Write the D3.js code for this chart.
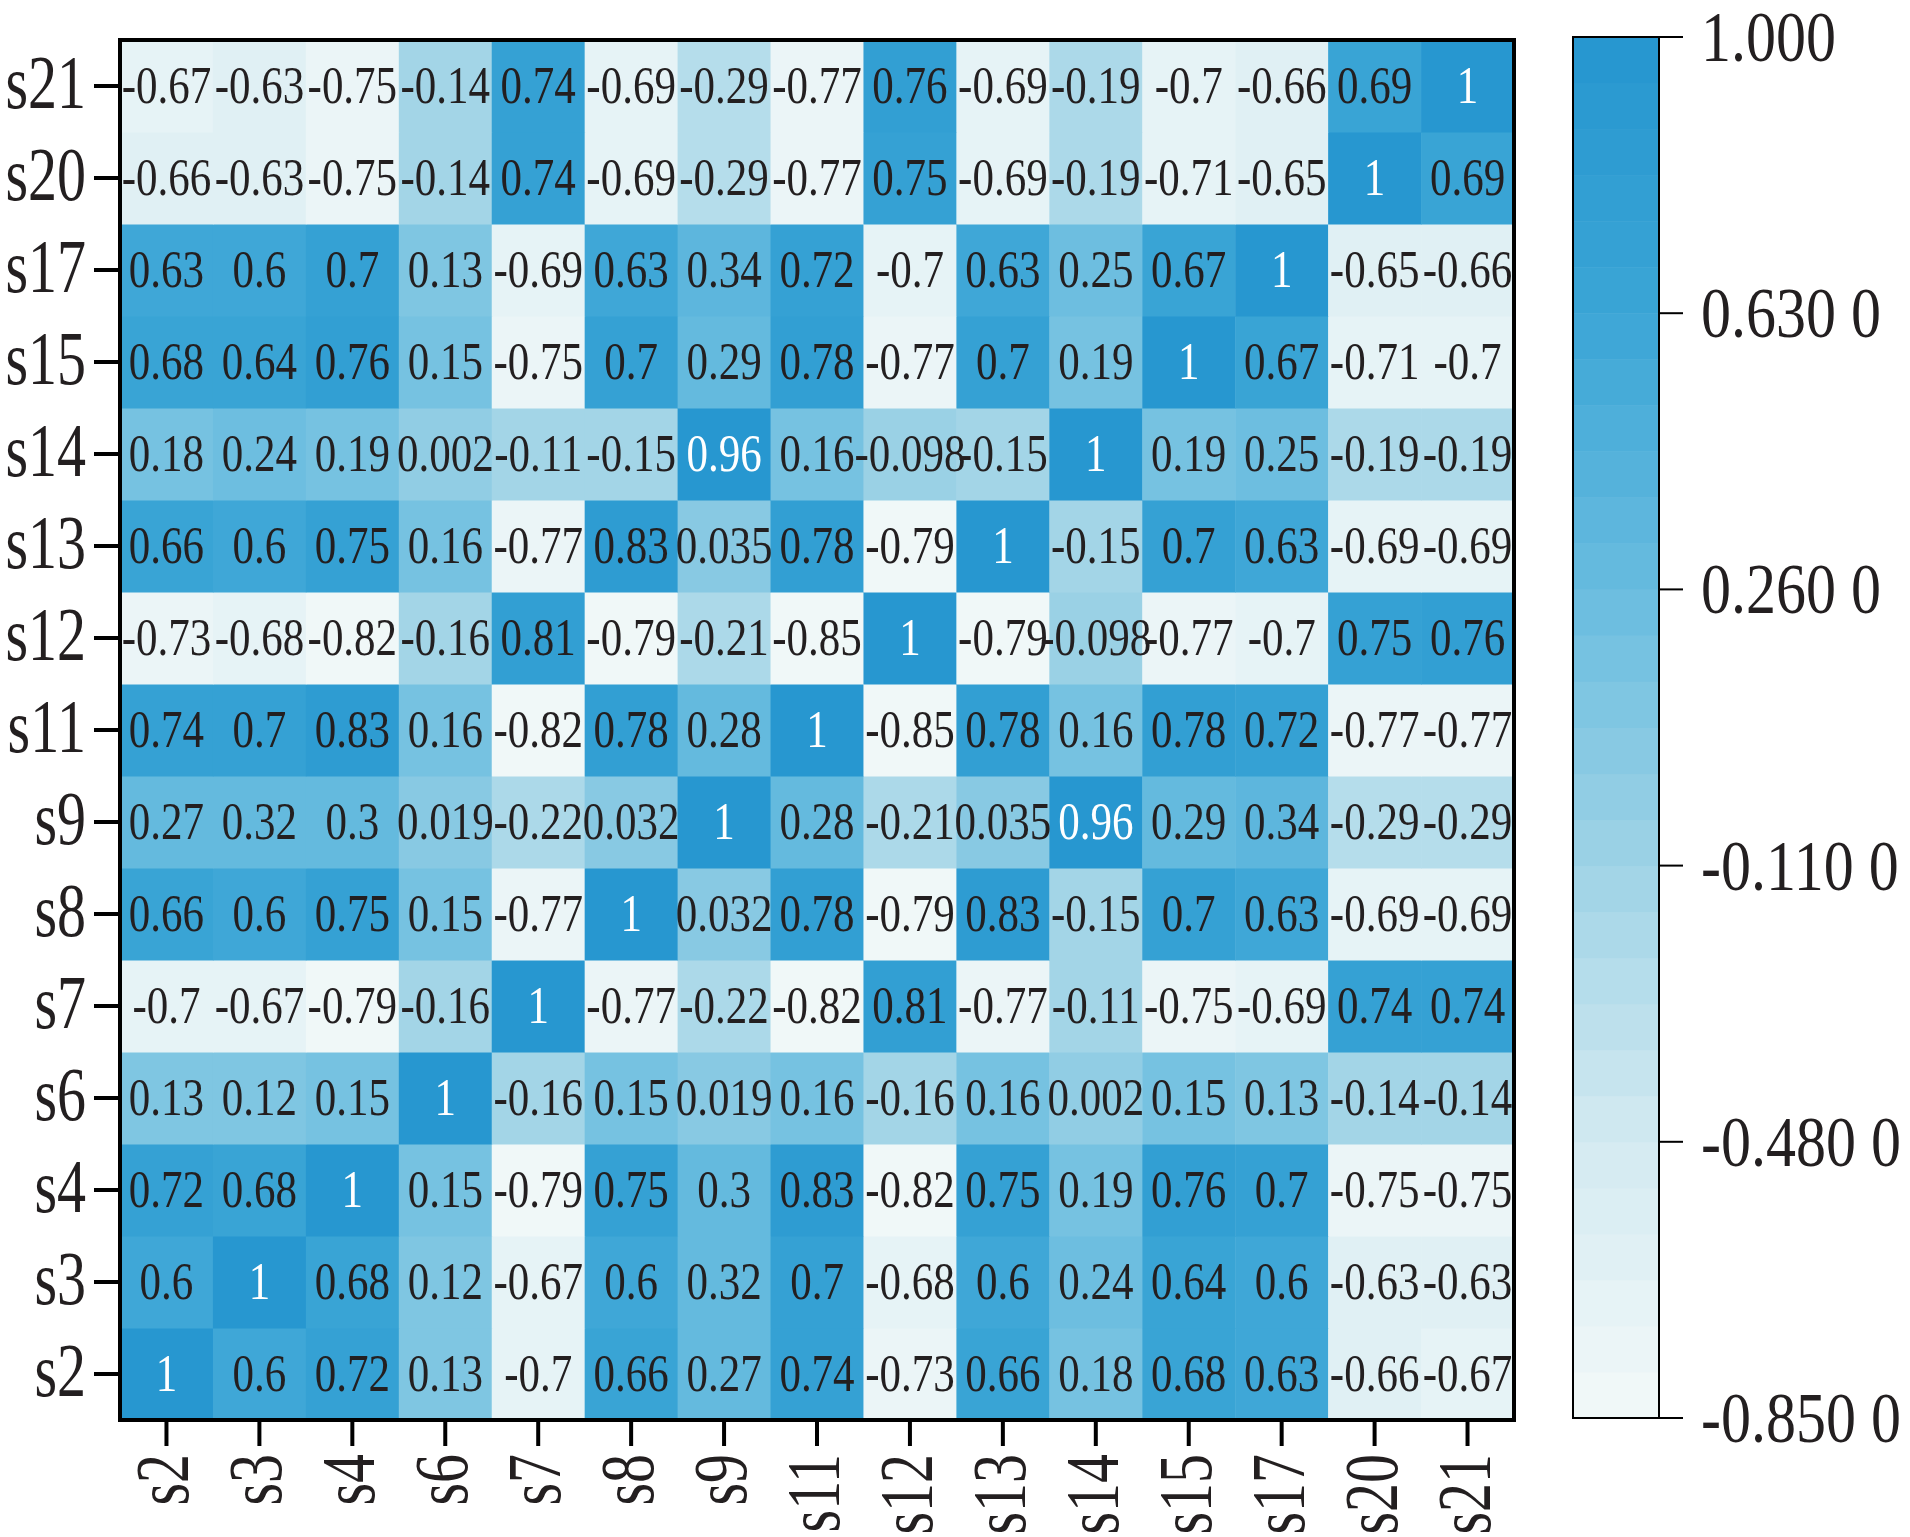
<!DOCTYPE html>
<html><head><meta charset="utf-8">
<script src="https://cdn.jsdelivr.net/npm/d3@7"></script>
<style>body{margin:0;background:#fff}text{font-family:"Liberation Serif","Times New Roman",serif;fill:#231f20}</style>
</head><body><svg id="vis" width="1910" height="1537"></svg>
<script>
// variable order (rows bottom to top, columns left to right)
var names = ['s2','s3','s4','s6','s7','s8','s9','s11','s12','s13','s14','s15','s17','s20','s21'];
var s2  = [1,0.6,0.72,0.13,-0.7,0.66,0.27,0.74,-0.73,0.66,0.18,0.68,0.63,-0.66,-0.67];
var s3  = [0.6,1,0.68,0.12,-0.67,0.6,0.32,0.7,-0.68,0.6,0.24,0.64,0.6,-0.63,-0.63];
var s4  = [0.72,0.68,1,0.15,-0.79,0.75,0.3,0.83,-0.82,0.75,0.19,0.76,0.7,-0.75,-0.75];
var s6  = [0.13,0.12,0.15,1,-0.16,0.15,0.019,0.16,-0.16,0.16,0.002,0.15,0.13,-0.14,-0.14];
var s7  = [-0.7,-0.67,-0.79,-0.16,1,-0.77,-0.22,-0.82,0.81,-0.77,-0.11,-0.75,-0.69,0.74,0.74];
var s8  = [0.66,0.6,0.75,0.15,-0.77,1,0.032,0.78,-0.79,0.83,-0.15,0.7,0.63,-0.69,-0.69];
var s9  = [0.27,0.32,0.3,0.019,-0.22,0.032,1,0.28,-0.21,0.035,0.96,0.29,0.34,-0.29,-0.29];
var s11 = [0.74,0.7,0.83,0.16,-0.82,0.78,0.28,1,-0.85,0.78,0.16,0.78,0.72,-0.77,-0.77];
var s12 = [-0.73,-0.68,-0.82,-0.16,0.81,-0.79,-0.21,-0.85,1,-0.79,-0.098,-0.77,-0.7,0.75,0.76];
var s13 = [0.66,0.6,0.75,0.16,-0.77,0.83,0.035,0.78,-0.79,1,-0.15,0.7,0.63,-0.69,-0.69];
var s14 = [0.18,0.24,0.19,0.002,-0.11,-0.15,0.96,0.16,-0.098,-0.15,1,0.19,0.25,-0.19,-0.19];
var s15 = [0.68,0.64,0.76,0.15,-0.75,0.7,0.29,0.78,-0.77,0.7,0.19,1,0.67,-0.71,-0.7];
var s17 = [0.63,0.6,0.7,0.13,-0.69,0.63,0.34,0.72,-0.7,0.63,0.25,0.67,1,-0.65,-0.66];
var s20 = [-0.66,-0.63,-0.75,-0.14,0.74,-0.69,-0.29,-0.77,0.75,-0.69,-0.19,-0.71,-0.65,1,0.69];
var s21 = [-0.67,-0.63,-0.75,-0.14,0.74,-0.69,-0.29,-0.77,0.76,-0.69,-0.19,-0.7,-0.66,0.69,1];
var rows = [s2,s3,s4,s6,s7,s8,s9,s11,s12,s13,s14,s15,s17,s20,s21];
var cbTicks = [-0.85,-0.48,-0.11,0.26,0.63,1.0];
var cbLabels = ['-0.850 0','-0.480 0','-0.110 0','0.260 0','0.630 0','1.000'];

var svg = d3.select('#vis');
var plot = { x0: 120, x1: 1514, y0: 40, y1: 1420 };
var cb = { x0: 1573, x1: 1659 };
var nSteps = 30;

var x = d3.scaleBand().domain(names).range([plot.x0, plot.x1]);
var y = d3.scaleBand().domain(names).range([plot.y1, plot.y0]);
var colorRamp = d3.scaleLinear()
    .domain(cbTicks)
    .range(['#f3f9f9','#d3eaf1','#9fd3e6','#68bcdf','#3ba5d6','#2596cf'])
    .interpolate(d3.interpolateRgb);
// discrete colour bands like the colorbar
var bandOf = function (v) {
    var t = Math.min(nSteps - 1, Math.floor((v + 0.85) / 1.85 * nSteps));
    return colorRamp(-0.85 + (t + 0.5) * 1.85 / nSteps);
};

var cells = [];
rows.forEach(function (r, i) {
    r.forEach(function (v, j) { cells.push({ row: names[i], col: names[j], v: v }); });
});

svg.selectAll('rect.cell').data(cells).enter().append('rect')
    .attr('x', function (d) { return x(d.col); })
    .attr('y', function (d) { return y(d.row); })
    .attr('width', x.bandwidth() + 0.5)
    .attr('height', y.bandwidth() + 0.5)
    .style('fill', function (d) { return bandOf(d.v); });

svg.selectAll('text.val').data(cells).enter().append('text')
    .attr('transform', function (d) {
        return 'translate(' + (x(d.col) + x.bandwidth() / 2) + ',' + (y(d.row) + y.bandwidth() / 2 + 17) + ') scale(1,1.25)';
    })
    .attr('text-anchor', 'middle')
    .style('font-size', '43px')
    .style('fill', function (d) { return d.v >= 0.95 ? '#ffffff' : '#231f20'; })
    .text(function (d) { return String(d.v); });

svg.append('rect')
    .attr('x', plot.x0).attr('y', plot.y0)
    .attr('width', plot.x1 - plot.x0).attr('height', plot.y1 - plot.y0)
    .style('fill', 'none').style('stroke', '#000').style('stroke-width', 4);

// axes
var yAxis = svg.append('g');
names.forEach(function (n) {
    var cy = y(n) + y.bandwidth() / 2;
    yAxis.append('line').attr('x1', plot.x0 - 26).attr('x2', plot.x0).attr('y1', cy).attr('y2', cy)
        .style('stroke', '#000').style('stroke-width', 4);
    yAxis.append('text')
        .attr('transform', 'translate(' + (plot.x0 - 34) + ',' + (cy + 22) + ') scale(1,1.3)')
        .attr('text-anchor', 'end').style('font-size', '58px').text(n);
});
var xAxis = svg.append('g');
names.forEach(function (n) {
    var cx = x(n) + x.bandwidth() / 2;
    xAxis.append('line').attr('x1', cx).attr('x2', cx).attr('y1', plot.y1).attr('y2', plot.y1 + 26)
        .style('stroke', '#000').style('stroke-width', 4);
    xAxis.append('text')
        .attr('transform', 'translate(' + (cx + 22) + ',' + (plot.y1 + 34) + ') rotate(-90) scale(1,1.3)')
        .attr('text-anchor', 'end').style('font-size', '58px').text(n);
});

// colorbar
var cy = d3.scaleLinear().domain([-0.85, 1]).range([plot.y1 - 2, plot.y0 - 3]);
var steps = d3.range(nSteps);
svg.selectAll('rect.cb').data(steps).enter().append('rect')
    .attr('x', cb.x0)
    .attr('y', function (i) { return cy(-0.85 + (i + 1) * 1.85 / nSteps); })
    .attr('width', cb.x1 - cb.x0)
    .attr('height', Math.abs(cy(0) - cy(1.85 / nSteps)) + 0.5)
    .style('fill', function (i) { return colorRamp(-0.85 + (i + 0.5) * 1.85 / nSteps); });
svg.append('rect')
    .attr('x', cb.x0).attr('y', cy(1)).attr('width', cb.x1 - cb.x0).attr('height', cy(-0.85) - cy(1))
    .style('fill', 'none').style('stroke', '#000').style('stroke-width', 2);
cbTicks.forEach(function (t, i) {
    svg.append('line').attr('x1', cb.x1).attr('x2', cb.x1 + 24).attr('y1', cy(t)).attr('y2', cy(t))
        .style('stroke', '#000').style('stroke-width', 2);
    svg.append('text')
        .attr('transform', 'translate(' + (cb.x1 + 42) + ',' + (cy(t) + 24) + ') scale(1,1.2)')
        .style('font-size', '60px').text(cbLabels[i]);
});
</script></body></html>
